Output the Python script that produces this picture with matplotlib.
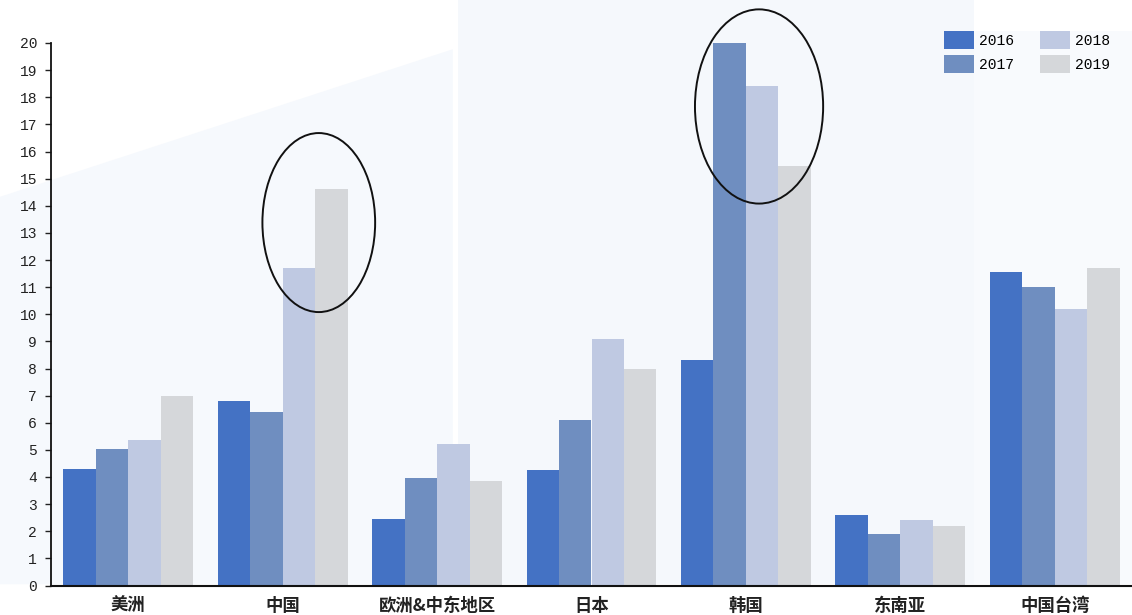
import matplotlib
matplotlib.use("Agg")
import matplotlib.pyplot as plt
from matplotlib.patches import Ellipse, Polygon, Rectangle
import numpy as np

plt.rcParams['font.family'] = ['Noto Sans CJK SC', 'DejaVu Sans']

regions = ["美洲", "中国", "欧洲&中东地区", "日本", "韩国", "东南亚", "中国台湾"]
years = ["2016", "2017", "2018", "2019"]
v2016 = [4.3, 6.8, 2.45, 4.25, 8.3, 2.6, 11.55]
v2017 = [5.05, 6.4, 3.95, 6.1, 20.0, 1.9, 11.0]
v2018 = [5.35, 11.7, 5.2, 9.1, 18.4, 2.4, 10.2]
v2019 = [7.0, 14.6, 3.85, 8.0, 15.45, 2.2, 11.7]
colors = ["#4472C4", "#6F8EC0", "#BFC9E2", "#D5D7DA"]

W, H = 1132, 615
fig = plt.figure(figsize=(W / 100, H / 100), dpi=100)
fig.patch.set_facecolor("white")

# faint backdrop shapes on a separate canvas layer
bg_ax = fig.add_axes([0, 0, 1, 1], zorder=0)
bg_ax.set_xlim(0, 1)
bg_ax.set_ylim(0, 1)
bg_ax.axis("off")
bg_ax.add_patch(Polygon([[0.0, 0.05], [0.0, 0.68], [0.40, 0.92], [0.40, 0.05]],
                        closed=True, facecolor="#F6F9FD", edgecolor="none"))
bg_ax.add_patch(Rectangle((0.405, 0.05), 0.455, 0.95, facecolor="#F5F8FC",
                          edgecolor="none"))
bg_ax.add_patch(Rectangle((0.86, 0.05), 0.14, 0.90, facecolor="#F8FAFD",
                          edgecolor="none"))

ax = fig.add_axes([51 / W, (H - 585.5) / H, 1081 / W, (585.5 - 43) / H], zorder=1)
ax.set_facecolor("none")

series = [v2016, v2017, v2018, v2019]
x = np.arange(len(regions))
bw = 0.21
for i, (vals, c, y) in enumerate(zip(series, colors, years)):
    ax.bar(x + (i - 1.5) * bw, vals, width=bw, color=c, label=y, zorder=2)

ax.set_xlim(-0.5, len(regions) - 0.5)
ax.set_ylim(0, 20)
ax.set_yticks(range(0, 21))
ax.tick_params(axis="y", length=4, width=1, pad=6, colors="#222222")
for lab in ax.get_yticklabels():
    lab.set_fontfamily("Liberation Mono")
    lab.set_fontsize(10.5)
ax.tick_params(axis="x", length=0, pad=8)
ax.set_xticks(x)
ax.set_xticklabels(regions, fontsize=12.5, fontweight="bold", color="#222222")
for s in ["top", "right"]:
    ax.spines[s].set_visible(False)
ax.spines["left"].set_color("#111111")
ax.spines["bottom"].set_color("#111111")
ax.spines["left"].set_linewidth(1.3)
ax.spines["bottom"].set_linewidth(1.5)

# highlight rings
ax.add_patch(Ellipse((1.234, 13.38), 0.73, 6.6, fill=False, edgecolor="#111111",
                     linewidth=1.4, zorder=3, clip_on=False))
ax.add_patch(Ellipse((4.085, 17.66), 0.83, 7.16, fill=False, edgecolor="#111111",
                     linewidth=1.4, zorder=3, clip_on=False))

leg = fig.legend(*ax.get_legend_handles_labels(), ncol=2, loc="upper left",
                 bbox_to_anchor=(944 / W, (H - 31) / H), frameon=False,
                 prop={"family": "Liberation Mono", "size": 10.5},
                 handlelength=2.05, handleheight=1.5, columnspacing=1.8,
                 labelspacing=0.45, handletextpad=0.35, borderpad=0,
                 borderaxespad=0)

fig.savefig("out.png", dpi=100)
